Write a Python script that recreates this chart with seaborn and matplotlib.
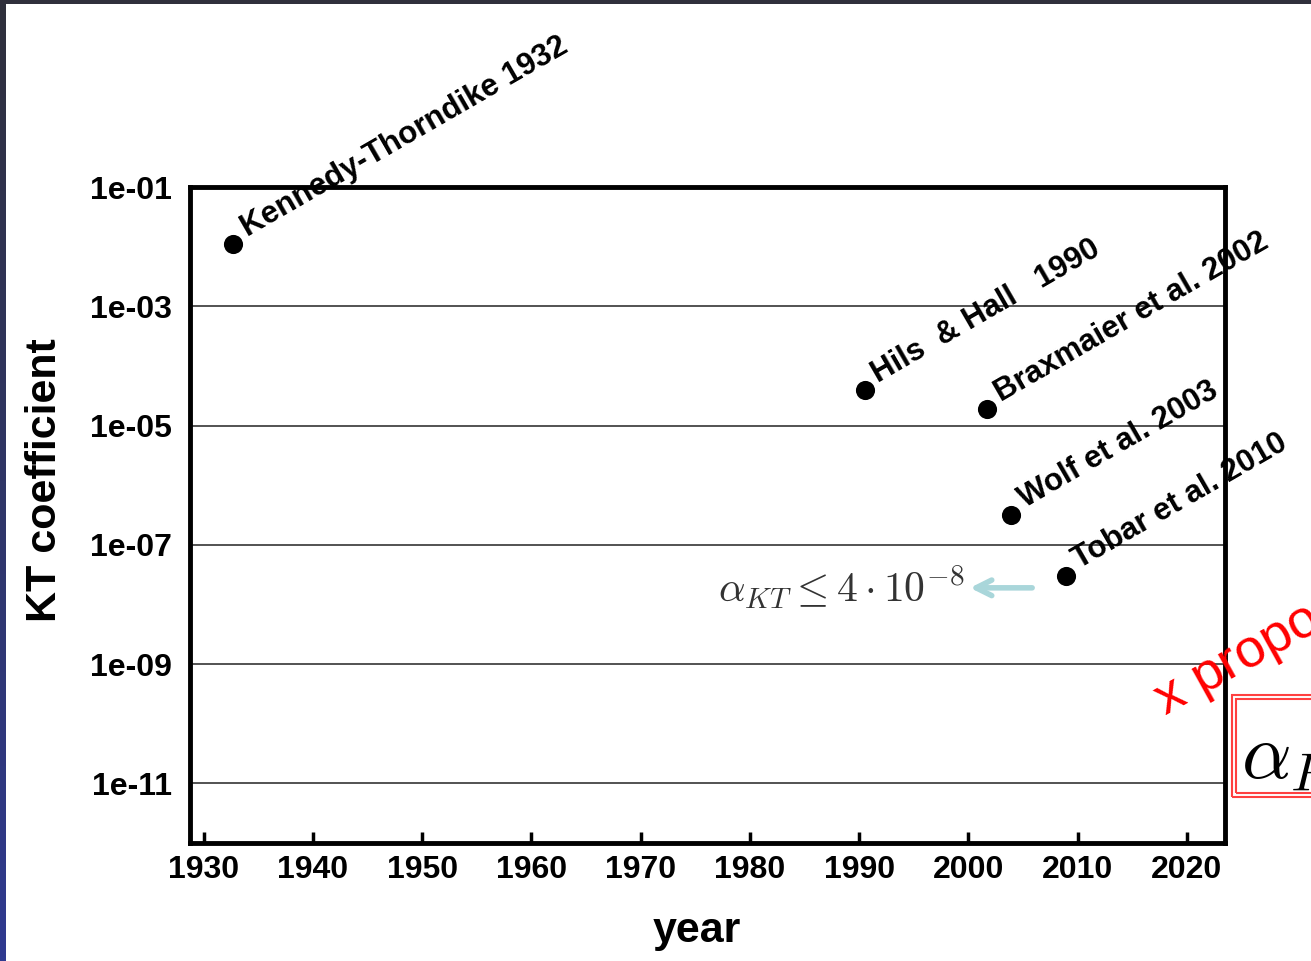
import numpy as np
import pandas as pd
import matplotlib
matplotlib.use("Agg")
import matplotlib.pyplot as plt
from matplotlib.patches import Rectangle
from matplotlib.colors import LinearSegmentedColormap
import seaborn as sns

# ---- data ----
experiments = ["Kennedy-Thorndike 1932", "Hils  & Hall   1990", "Braxmaier et al. 2002",
               "Wolf et al. 2003", "Tobar et al. 2010"]
years = [1932.7, 1990.5, 2001.7, 2003.9, 2008.9]
kt_coeff = [1.1e-2, 4.0e-5, 1.9e-5, 3.2e-7, 3.0e-8]
x_ticks = [1930, 1940, 1950, 1960, 1970, 1980, 1990, 2000, 2010, 2020]
y_ticks = [1e-11, 1e-9, 1e-7, 1e-5, 1e-3, 1e-1]
y_tick_labels = ["1e-11", "1e-09", "1e-07", "1e-05", "1e-03", "1e-01"]
bound_text = r"$\alpha_{KT} \leq 4 \cdot 10^{-8}$"

df = pd.DataFrame({"year": years, "kt": kt_coeff, "name": experiments})

sns.set_theme(style="white")
plt.rcParams["font.family"] = ["Liberation Sans", "DejaVu Sans"]
plt.rcParams["mathtext.fontset"] = "cm"

W, H = 1311, 961
fig = plt.figure(figsize=(W / 100, H / 100), dpi=100)
fig.patch.set_facecolor("white")

def fx(px):
    return px / W

def fy(py):
    return 1 - py / H

ax = fig.add_axes([fx(190), fy(843), fx(1225) - fx(190), fy(187) - fy(843)])
ax.set_yscale("log")
ax.set_xlim(1928.75, 2023.5)
ax.set_ylim(1e-12, 1e-1)

for yv in y_ticks[:-1]:
    ax.axhline(yv, color="#444444", lw=1.3, zorder=1)

sns.scatterplot(data=df, x="year", y="kt", ax=ax, color="black", s=190,
                edgecolor="black", linewidth=0, zorder=3, legend=False)

for name, xv, yv in zip(experiments, years, kt_coeff):
    ax.annotate(name, xy=(xv, yv), xytext=(10, 5), textcoords="offset points",
                rotation=30, rotation_mode="anchor", ha="left", va="baseline",
                fontsize=22.5, fontweight="bold", color="black", annotation_clip=False,
                zorder=4)

# bound annotation
ax.annotate("", xy=(1999.9, 1.9e-8), xytext=(2006.1, 1.9e-8),
            arrowprops=dict(arrowstyle="->", color="#a9d6da", lw=4,
                            mutation_scale=28), zorder=2)
ax.text(1999.7, 1.9e-8, bound_text, ha="right", va="center", fontsize=30,
        color="#333333")

ax.set_xticks(x_ticks)
ax.set_xticklabels([str(t) for t in x_ticks], fontsize=23, fontweight="bold")
ax.set_yticks(y_ticks)
ax.set_yticklabels(y_tick_labels, fontsize=23, fontweight="bold")
ax.minorticks_off()
ax.tick_params(axis="x", direction="in", length=8, width=2.5, pad=9, colors="black",
               bottom=True)
ax.tick_params(axis="y", length=0, pad=13, colors="black")
for lab in ax.get_xticklabels() + ax.get_yticklabels():
    lab.set_color("black")

for sp in ax.spines.values():
    sp.set_color("black")
    sp.set_linewidth(3.5)

ax.set_xlabel("year", fontsize=31, fontweight="bold", color="black")
ax.set_ylabel("KT coefficient", fontsize=31, fontweight="bold", color="black")
ax.xaxis.set_label_coords(0.49, -0.104)
ax.yaxis.set_label_coords(-0.121, 0.553)

# slide decorations
fig.text(fx(1166), fy(715), "x proposal", rotation=29, rotation_mode="anchor",
         ha="left", va="baseline", fontsize=39, color="#ff0000")
fig.patches.append(Rectangle((fx(1232), fy(797)), fx(200), fy(695) - fy(797),
                             transform=fig.transFigure, fill=False,
                             edgecolor="#ff4040", lw=1.5))
fig.patches.append(Rectangle((fx(1236), fy(793)), fx(200), fy(699) - fy(793),
                             transform=fig.transFigure, fill=False,
                             edgecolor="#ff4040", lw=1.5))
fig.text(fx(1241), fy(777), r"$\alpha_{P}$", fontsize=56, color="black",
         ha="left", va="baseline")

# dark slide border
fig.patches.append(Rectangle((0, fy(4)), 1, 4 / H,
                             transform=fig.transFigure, color="#30303c", lw=0))
grad_ax = fig.add_axes([0, 0, 6 / W, 1])
grad = np.linspace(0, 1, 256).reshape(-1, 1)
cmap = LinearSegmentedColormap.from_list("edge", ["#2f3a90", "#30303c"])
grad_ax.imshow(grad, aspect="auto", cmap=cmap, origin="lower")
grad_ax.set_axis_off()

fig.savefig("out.png", dpi=100)
